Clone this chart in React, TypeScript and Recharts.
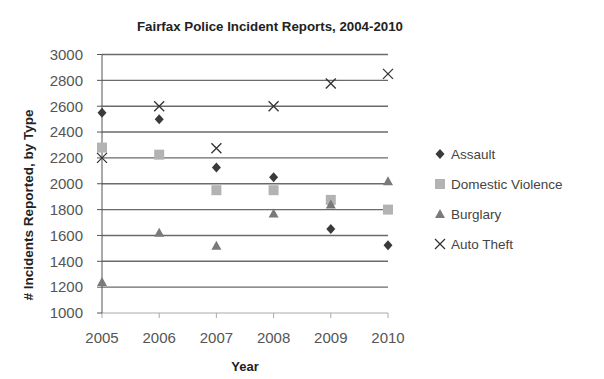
import { ScatterChart, Scatter, XAxis, YAxis, CartesianGrid } from 'recharts'

const years = [2005, 2006, 2007, 2008, 2009, 2010]
const assault = [2550, 2500, 2125, 2050, 1650, 1525]
const domestic = [2280, 2225, 1950, 1950, 1875, 1800]
const burglary = [1240, 1620, 1520, 1770, 1840, 2020]
const autoTheft = [2200, 2600, 2275, 2600, 2775, 2850]
const yTicks = [1000, 1200, 1400, 1600, 1800, 2000, 2200, 2400, 2600, 2800, 3000]
const gridValues = [1200, 1400, 1600, 1800, 2000, 2200, 2400, 2600, 2800, 3000]

const toPoints = (vals: number[]) => years.map((y, i) => ({ year: y, value: vals[i] }))

const FONT = '"Liberation Sans", Arial, sans-serif'

type ShapeProps = { cx?: number; cy?: number }

const Diamond = ({ cx = 0, cy = 0 }: ShapeProps) => (
  <path d={`M${cx},${cy - 5}L${cx + 4.5},${cy}L${cx},${cy + 5}L${cx - 4.5},${cy}Z`} fill="#3a3a3a" />
)
const Square = ({ cx = 0, cy = 0 }: ShapeProps) => (
  <rect x={cx - 5} y={cy - 5} width={10} height={10} fill="#b3b3b3" />
)
const Triangle = ({ cx = 0, cy = 0 }: ShapeProps) => (
  <path d={`M${cx},${cy - 5}L${cx + 5},${cy + 4}L${cx - 5},${cy + 4}Z`} fill="#7a7a7a" />
)
const Cross = ({ cx = 0, cy = 0 }: ShapeProps) => (
  <path d={`M${cx - 5},${cy - 5}L${cx + 5},${cy + 5}M${cx + 5},${cy - 5}L${cx - 5},${cy + 5}`} stroke="#333" strokeWidth={1.3} fill="none" />
)

const legendItems = [
  { name: 'Assault', Shape: Diamond },
  { name: 'Domestic Violence', Shape: Square },
  { name: 'Burglary', Shape: Triangle },
  { name: 'Auto Theft', Shape: Cross },
]

function LegendBox() {
  return (
    <svg width={170} height={120} style={{ position: 'absolute', left: 434, top: 144 }}>
      {legendItems.map((it, i) => (
        <g key={it.name}>
          <it.Shape cx={6} cy={10 + i * 30} />
          <text x={17} y={15 + i * 30} fontSize={13.5} fill="#444" fontFamily={FONT}>{it.name}</text>
        </g>
      ))}
    </svg>
  )
}

export default function App() {
  return (
    <div style={{ position: 'absolute', left: 0, top: 0, width: 604, height: 379, background: '#fff' }}>
      <ScatterChart width={604} height={379} margin={{ top: 54.5, right: 216, bottom: 36, left: 0 }}>
        <text x={270} y={31} textAnchor="middle" fontSize={13.3} fontWeight="bold" fill="#222" fontFamily={FONT}>
          Fairfax Police Incident Reports, 2004-2010
        </text>
        <text x={33} y={205} transform="rotate(-90 33 205)" textAnchor="middle" fontSize={13.5} fontWeight="bold" fill="#222" fontFamily={FONT}>
          # Incidents Reported, by Type
        </text>
        <text x={245} y={371} textAnchor="middle" fontSize={13} fontWeight="bold" fill="#222" fontFamily={FONT}>
          Year
        </text>
        <CartesianGrid vertical={false} horizontalValues={gridValues} stroke="#6a6a6a" strokeWidth={1.4} />
        <XAxis
          type="number"
          dataKey="year"
          domain={[2005, 2010]}
          ticks={years}
          interval={0}
          height={30}
          tickSize={5}
          tickMargin={14}
          stroke="#aaa"
          tick={{ fill: '#555', fontSize: 15, fontFamily: FONT }}
        />
        <YAxis
          type="number"
          dataKey="value"
          domain={[1000, 3000]}
          ticks={yTicks}
          interval={0}
          width={102}
          tickSize={5}
          tickMargin={14}
          stroke="#555"
          tick={{ fill: '#555', fontSize: 15, fontFamily: FONT }}
        />
        <Scatter name="Assault" data={toPoints(assault)} shape={Diamond} isAnimationActive={false} />
        <Scatter name="Domestic Violence" data={toPoints(domestic)} shape={Square} isAnimationActive={false} />
        <Scatter name="Burglary" data={toPoints(burglary)} shape={Triangle} isAnimationActive={false} />
        <Scatter name="Auto Theft" data={toPoints(autoTheft)} shape={Cross} isAnimationActive={false} />
      </ScatterChart>
      <LegendBox />
    </div>
  )
}
